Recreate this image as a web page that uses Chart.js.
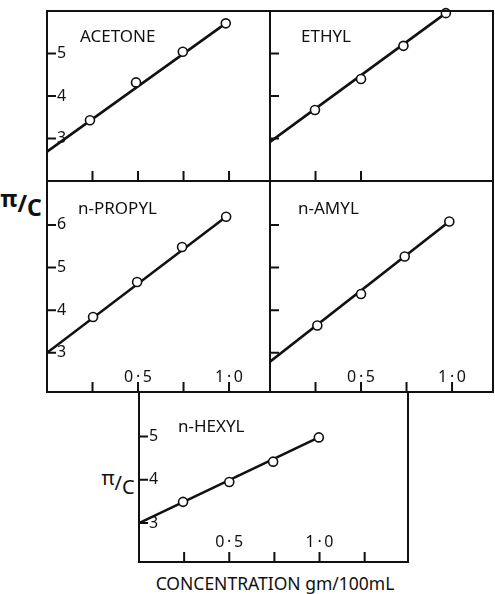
<!DOCTYPE html>
<html>
<head>
<meta charset="utf-8">
<script src="https://cdn.jsdelivr.net/npm/chart.js@4.4.1/dist/chart.umd.min.js"></script>
<style>
  body { margin: 0; background: #fff; }
  #wrap { position: relative; width: 495px; height: 594px; overflow: hidden; font-family: "Noto Sans", sans-serif; color: #111; }
  canvas { position: absolute; }
  .lbl { position: absolute; transform: translate(-50%, -50%); white-space: nowrap; }
  .up { position: relative; top: -5px; }
  .dn { position: relative; top: 4px; }
</style>
</head>
<body>
<div id="wrap">
  <div class="lbl" style="left:21px;top:203px;font-size:23px;font-weight:bold"><span class="up">π</span>/<span class="dn">C</span></div>
  <div class="lbl" style="left:118px;top:482px;font-size:20px"><span class="up">π</span>/<span class="dn">C</span></div>
  <div class="lbl" style="left:275px;top:583px;font-size:17.5px">CONCENTRATION gm/100mL</div>
</div>
<script>
// concentration (gm/100mL) and pi/c
const acetoneX = [0.236, 0.489, 0.746, 0.982];
const acetoneY = [3.43, 4.32, 5.04, 5.71];
const acetoneLine = [2.69, 5.71];   // fitted line at x = 0 and at the last point

const ethylX = [0.247, 0.50, 0.733, 0.966];
const ethylY = [3.67, 4.40, 5.18, 5.95];
const ethylLine = [2.92, 5.95];

const propylX = [0.253, 0.495, 0.742, 0.984];
const propylY = [3.84, 4.66, 5.48, 6.19];
const propylLine = [3.0, 6.19];

const amylX = [0.26, 0.50, 0.74, 0.985];
const amylY = [3.64, 4.38, 5.26, 6.08];
const amylLine = [2.79, 6.08];

const hexylX = [0.244, 0.50, 0.743, 0.996];
const hexylY = [3.49, 3.95, 4.42, 4.98];
const hexylLine = [3.0, 4.98];

// tick marks and labels
const xTicksFull = [0.25, 0.5, 0.75, 1.0];
const xTicksEthyl = [0.25, 0.5];
const xTicksHexyl = [0.25, 0.5, 0.75, 1.0, 1.25];
const xLabelVals = [0.5, 1.0];
const xLabelText = ['0\u2009·\u20095', '1\u2009·\u20090'];
const yTicksTop = [3, 4, 5];
const yTicksMid = [3, 4, 5, 6];

const ink = '#111';

const panels = [
  { name: 'ACETONE', x: acetoneX, y: acetoneY, line: acetoneLine, box: [47, 11, 223, 170],
    xMax: 1.225, yMin: 2, yMax: 6, xTicks: xTicksFull, yTicks: yTicksTop, xLab: false, yLab: true,
    nameDx: 33, nameDy: 26, xPad: 6 },
  { name: 'ETHYL', x: ethylX, y: ethylY, line: ethylLine, box: [270, 11, 223, 170],
    xMax: 1.225, yMin: 2, yMax: 6, xTicks: xTicksEthyl, yTicks: yTicksTop, xLab: false, yLab: false,
    nameDx: 31, nameDy: 26, xPad: 6 },
  { name: 'n-PROPYL', x: propylX, y: propylY, line: propylLine, box: [47, 181, 223, 211],
    xMax: 1.225, yMin: 2.08, yMax: 7.03, xTicks: xTicksFull, yTicks: yTicksMid, xLab: true, yLab: true,
    nameDx: 31, nameDy: 28, xPad: 5 },
  { name: 'n-AMYL', x: amylX, y: amylY, line: amylLine, box: [270, 181, 223, 211],
    xMax: 1.225, yMin: 2.08, yMax: 7.03, xTicks: xTicksFull, yTicks: yTicksMid, xLab: true, yLab: false,
    nameDx: 28, nameDy: 28, xPad: 5 },
  { name: 'n-HEXYL', x: hexylX, y: hexylY, line: hexylLine, box: [139, 392, 269, 170],
    xMax: 1.49, yMin: 2.1, yMax: 6.03, xTicks: xTicksHexyl, yTicks: yTicksTop, xLab: true, yLab: true,
    nameDx: 39, nameDy: 35, xPad: 10 }
];

const panelDeco = {
  id: 'panelDeco',
  afterDatasetsDraw(chart, args, o) {
    const { ctx, chartArea: a, scales } = chart;
    ctx.save();
    ctx.strokeStyle = ink;
    ctx.lineWidth = 2;
    ctx.strokeRect(a.left, a.top, a.right - a.left, a.bottom - a.top);
    ctx.beginPath();
    scales.x.ticks.forEach(t => {
      const px = scales.x.getPixelForValue(t.value);
      ctx.moveTo(px, a.bottom);
      ctx.lineTo(px, a.bottom - 10);
    });
    scales.y.ticks.forEach(t => {
      const py = scales.y.getPixelForValue(t.value);
      ctx.moveTo(a.left, py);
      ctx.lineTo(a.left + 9, py);
    });
    ctx.stroke();
    ctx.font = '17px "Noto Sans"';
    ctx.fillStyle = ink;
    ctx.textBaseline = 'middle';
    ctx.fillText(o.name, a.left + o.nameDx, a.top + o.nameDy);
    ctx.restore();
  }
};

const pad = 8;
const wrap = document.getElementById('wrap');

panels.forEach(p => {
  const [left, top, w, h] = p.box;
  const canvas = document.createElement('canvas');
  canvas.width = w + 2 * pad;
  canvas.height = h + 2 * pad;
  canvas.style.left = (left - pad) + 'px';
  canvas.style.top = (top - pad) + 'px';
  wrap.appendChild(canvas);

  const points = p.x.map((v, i) => ({ x: v, y: p.y[i] }));
  const fit = [{ x: 0, y: p.line[0] }, { x: p.x[p.x.length - 1], y: p.line[1] }];

  new Chart(canvas, {
    type: 'scatter',
    data: {
      datasets: [
        {
          data: points,
          pointRadius: 4.5,
          pointBackgroundColor: '#fff',
          pointBorderColor: ink,
          pointBorderWidth: 1.6,
          clip: false
        },
        {
          data: fit,
          showLine: true,
          borderColor: ink,
          borderWidth: 2.6,
          pointRadius: 0
        }
      ]
    },
    options: {
      responsive: false,
      animation: false,
      layout: { padding: pad },
      plugins: { legend: { display: false }, tooltip: { enabled: false }, panelDeco: { name: p.name, nameDx: p.nameDx, nameDy: p.nameDy } },
      scales: {
        x: {
          type: 'linear', min: 0, max: p.xMax,
          grid: { display: false, drawTicks: false }, border: { display: false },
          afterBuildTicks: s => { s.ticks = p.xTicks.map(v => ({ value: v })); },
          afterFit: s => { s.height = 0; s.paddingLeft = 0; s.paddingRight = 0; s.paddingTop = 0; s.paddingBottom = 0; },
          ticks: {
            mirror: true, padding: p.xPad, autoSkip: false, maxRotation: 0, minRotation: 0,
            color: ink, font: { family: 'Noto Sans', size: 16 },
            callback: v => {
              const i = xLabelVals.indexOf(v);
              return p.xLab && i >= 0 ? xLabelText[i] : '';
            }
          }
        },
        y: {
          type: 'linear', min: p.yMin, max: p.yMax,
          grid: { display: false, drawTicks: false }, border: { display: false },
          afterBuildTicks: s => { s.ticks = p.yTicks.map(v => ({ value: v })); },
          afterFit: s => { s.width = 0; s.paddingLeft = 0; s.paddingRight = 0; s.paddingTop = 0; s.paddingBottom = 0; },
          ticks: {
            mirror: true, padding: 10, autoSkip: false,
            color: ink, font: { family: 'Noto Sans', size: 16 },
            callback: v => p.yLab ? String(v) : ''
          }
        }
      }
    },
    plugins: [panelDeco]
  });
});
</script>
</body>
</html>
